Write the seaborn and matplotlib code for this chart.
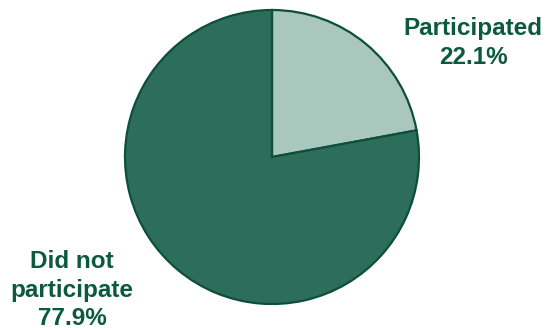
import matplotlib
matplotlib.use('Agg')
import matplotlib.pyplot as plt
import seaborn as sns

# ── Data ──────────────────────────────────────────────────────────────
labels = ['Participated', 'Did not\nparticipate']
shares = [22.1, 77.9]
colors = ['#a9c7bc', '#2d6e5a']

sns.set_theme(style='white')
plt.rcParams['font.family'] = ['Liberation Sans', 'DejaVu Sans']

W, H = 546, 330
fig = plt.figure(figsize=(W / 100, H / 100), dpi=100)
ax = fig.add_axes([0, 0, 1, 1])

ax.pie(shares, colors=colors, startangle=90, counterclock=False,
       center=(272, H - 157), radius=147, frame=True,
       wedgeprops=dict(edgecolor='#0d4f3a', linewidth=1.6))
ax.set_xlim(0, W)
ax.set_ylim(0, H)
ax.set_aspect('equal')
ax.axis('off')

txt_color = '#0b5a3c'
ax.text(473, H - 43, f'{labels[0]}\n{shares[0]:.1f}%', ha='center', va='center',
        fontsize=17.5, fontweight='bold', color=txt_color, linespacing=1.3)
ax.text(72, H - 290, f'{labels[1]}\n{shares[1]:.1f}%', ha='center', va='center',
        fontsize=17.5, fontweight='bold', color=txt_color, linespacing=1.3)

fig.savefig('out.png', dpi=100)
